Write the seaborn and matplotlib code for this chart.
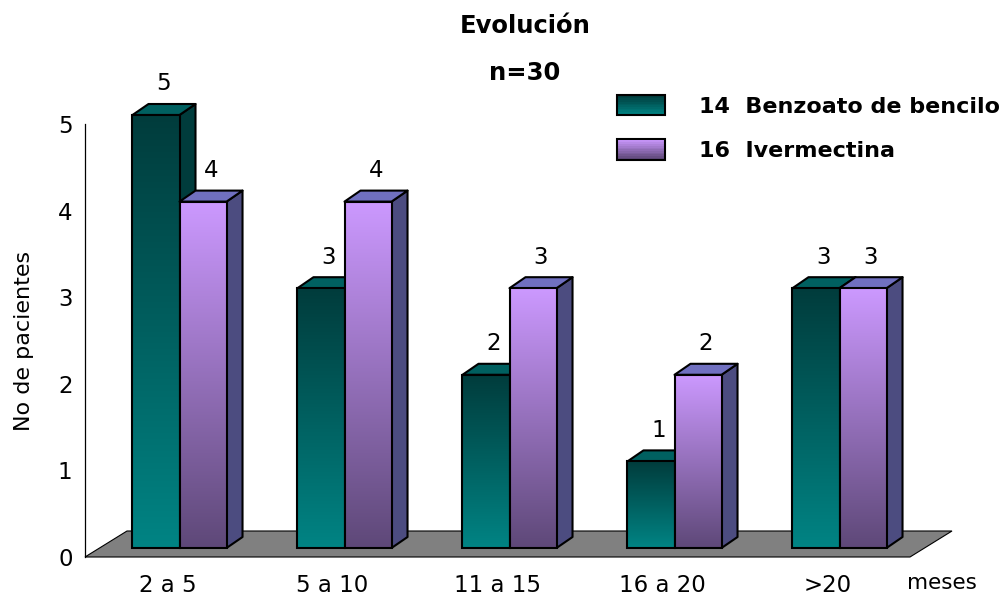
import numpy as np
import pandas as pd
import matplotlib
matplotlib.use('Agg')
import matplotlib.pyplot as plt
import seaborn as sns
from matplotlib.patches import Polygon, Rectangle
from matplotlib.colors import LinearSegmentedColormap
from matplotlib.legend_handler import HandlerBase

# datos
categorias = ['2 a 5', '5 a 10', '11 a 15', '16 a 20', '>20']
benzoato = [5, 3, 2, 1, 3]
ivermectina = [4, 4, 3, 2, 3]
series = ['14  Benzoato de bencilo', '16  Ivermectina']

df = pd.DataFrame({
    'categoria': categorias * 2,
    'serie': [series[0]] * 5 + [series[1]] * 5,
    'valor': benzoato + ivermectina,
})

sns.set_style('white')
plt.rcParams['font.family'] = ['DejaVu Sans']
plt.rcParams.update({'text.color': 'black', 'axes.labelcolor': 'black',
                     'xtick.color': 'black', 'ytick.color': 'black'})

# colores: (arriba, abajo) del frente, lado, tapa
estilos = {
    series[0]: dict(front=('#003c3c', '#008484'), side='#003c3c', top='#006060'),
    series[1]: dict(front=('#cc99ff', '#5e4878'), side='#4c4c80', top='#7070c0'),
}

fig = plt.figure(figsize=(10.05, 5.98), dpi=100)
ax = fig.add_axes([85 / 1005, 1 - 557 / 598, 825 / 1005, 433 / 598])

sns.barplot(data=df, x='categoria', y='valor', hue='serie', order=categorias,
            hue_order=series, width=0.57, gap=0, legend=False,
            edgecolor='black', linewidth=1.5, ax=ax)

# barras ordenadas de izquierda a derecha
barras = sorted(list(ax.patches), key=lambda p: p.get_x())

ax.set_xlim(-0.5, 4.5)
ax.set_ylim(0, 5)

# profundidad en unidades de datos
sx, sy = 12 / 165, 9 / 86.6        # desplazamiento de las barras hacia el fondo
ddx, ddy = 16 / 165, 11 / 86.6     # fondo de cada barra
fdx, fdy = 42 / 165, 26 / 86.6     # fondo del piso

# piso gris
piso = Polygon([(-0.5, 0), (4.5, 0), (4.5 + fdx, fdy), (-0.5 + fdx, fdy)],
               closed=True, facecolor='#808080', edgecolor='black', lw=0.8,
               zorder=1, clip_on=False)
ax.add_patch(piso)

n = len(series)
for i, bar in enumerate(barras):
    est = estilos[series[i % n]]
    x0 = bar.get_x() + sx
    w = bar.get_width()
    h = bar.get_height()
    x1 = x0 + w
    y0 = sy
    top = y0 + h
    z = 3 + i * 0.1
    bar.set_x(x0)
    bar.set_y(y0)
    bar.set_facecolor('none')
    bar.set_zorder(z + 0.05)
    bar.set_clip_on(False)
    cmap = LinearSegmentedColormap.from_list('g', [est['front'][1], est['front'][0]])
    grad = np.linspace(0, 1, 256).reshape(-1, 1)
    im = ax.imshow(grad, cmap=cmap, extent=[x0, x1, y0, top], origin='lower',
                   aspect='auto', zorder=z, interpolation='bilinear')
    im.set_clip_on(False)
    lado = Polygon([(x1, y0), (x1 + ddx, y0 + ddy), (x1 + ddx, top + ddy), (x1, top)],
                   closed=True, facecolor=est['side'], edgecolor='black', lw=1.5,
                   zorder=z - 0.01, clip_on=False, joinstyle='round')
    tapa = Polygon([(x0, top), (x0 + ddx, top + ddy), (x1 + ddx, top + ddy), (x1, top)],
                   closed=True, facecolor=est['top'], edgecolor='black', lw=1.5,
                   zorder=z - 0.01, clip_on=False, joinstyle='round')
    ax.add_patch(lado)
    ax.add_patch(tapa)
    ax.text(x0 + w / 2 + ddx / 2, top + ddy + 0.1, f'{int(h)}', ha='center',
            va='bottom', fontsize=16.5, zorder=10, clip_on=False)

ax.set_aspect('auto')
ax.set_xlim(-0.5, 4.5)
ax.set_ylim(0, 5)

# ejes
for s in ['top', 'right', 'bottom']:
    ax.spines[s].set_visible(False)
ax.spines['left'].set_color('black')
ax.spines['left'].set_linewidth(0.9)

ax.set_xticks(np.arange(-0.5, 5, 1))
ax.set_xticklabels([])
ax.set_xticks(range(len(categorias)), minor=True)
ax.set_xticklabels(categorias, minor=True, fontsize=16.5)
ax.tick_params(axis='x', which='major', direction='out', length=5, width=0.9, color='black')
ax.tick_params(axis='x', which='minor', length=0, pad=12)
ax.set_yticks(range(0, 6))
ax.tick_params(axis='y', direction='out', length=4, width=0.9, color='black',
               labelsize=16.5, pad=5)
ax.set_xlabel('')
ax.set_ylabel('No de pacientes', fontsize=16, labelpad=17)

ax.text(4.48, -0.305, 'meses', fontsize=15.5, ha='left', va='center')

fig.text(525 / 1005, 1 - 26 / 598, 'Evolución', ha='center', va='center',
         fontsize=17.5, fontweight='bold')
fig.text(525 / 1005, 1 - 73 / 598, 'n=30', ha='center', va='center',
         fontsize=17.5, fontweight='bold')


# leyenda con degradado
class HandlerDegradado(HandlerBase):
    def __init__(self, colores):
        super().__init__()
        self.colores = colores

    def create_artists(self, legend, orig_handle, xdescent, ydescent, width,
                       height, fontsize, trans):
        arriba, abajo = self.colores[orig_handle.get_label()]
        cmap = LinearSegmentedColormap.from_list('h', [abajo, arriba])
        artistas = []
        k = 12
        for j in range(k):
            artistas.append(Rectangle((-xdescent, -ydescent + height * j / k), width,
                                      height / k + 0.3, facecolor=cmap(j / (k - 1)),
                                      edgecolor='none', transform=trans))
        artistas.append(Rectangle((-xdescent, -ydescent), width, height,
                                  facecolor='none', edgecolor='black', lw=1.5,
                                  transform=trans))
        return artistas


handles = [Rectangle((0, 0), 1, 1, label=s) for s in series]
colores_ley = {s: estilos[s]['front'] for s in series}
fig.legend(handles=handles, labels=series, loc='upper left',
           bbox_to_anchor=(617 / 1005, 1 - 95 / 598), frameon=False,
           borderpad=0, borderaxespad=0,
           prop={'weight': 'bold', 'size': 16}, handlelength=2.16,
           handleheight=1.04, handletextpad=1.55, labelspacing=1.0,
           handler_map={h: HandlerDegradado(colores_ley) for h in handles})

fig.savefig('out.png', dpi=100)
